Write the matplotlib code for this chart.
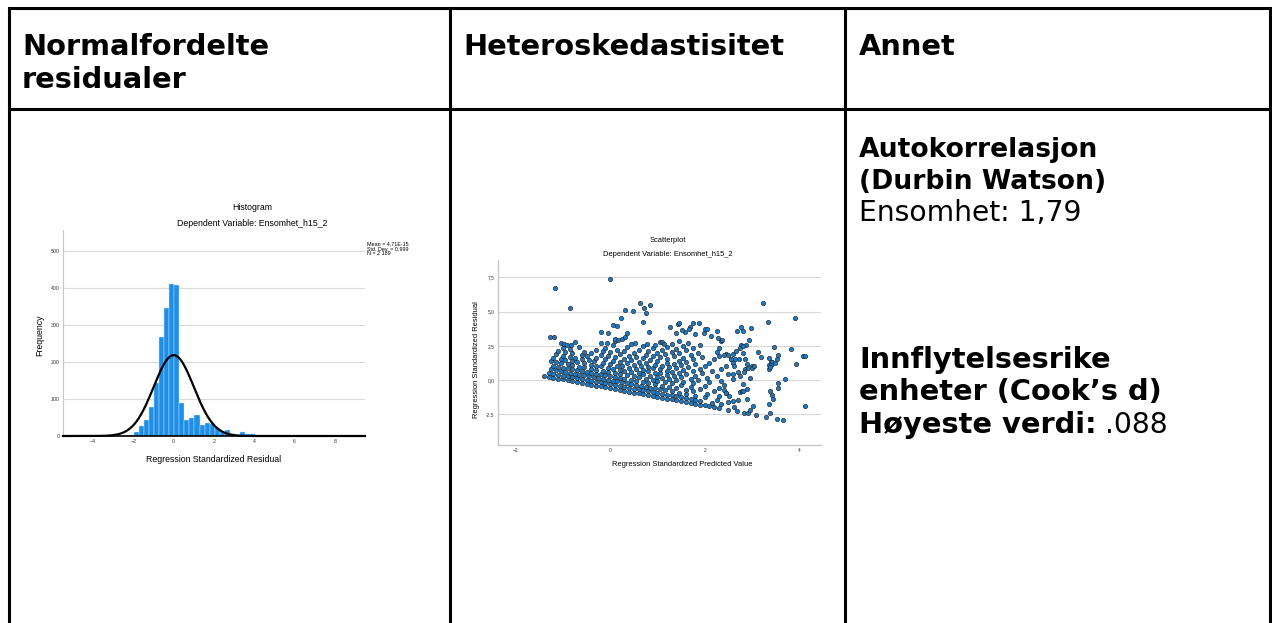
import numpy as np
import matplotlib
matplotlib.use("Agg")
import matplotlib.pyplot as plt

W, H = 1272, 623

# ---------- residual histogram ----------
bin_start, bin_width = -2.72, 0.25
hist_counts = [1, 2, 4, 12, 27, 44, 78, 142, 268, 345, 411, 408,
               89, 42, 50, 56, 31, 36, 33, 21, 10, 17, 5, 2, 10, 5, 5, 4,
               1, 2, 1, 2, 1]
res_mean, res_sd, res_n = 4.71e-15, 0.999, 2189
hist_xticks = [-4, -2, 0, 2, 4, 6, 8]
hist_yticks = [0, 100, 200, 300, 400, 500]

# ---------- residual vs predicted scatter ----------
# lower dense band (lowest outcome levels)
band_pred = [
    -1.4, -1.3, -1.2, -1.1, -1.0, -0.9, -0.8, -0.7, -0.6, -0.5, -0.4, -0.3, -0.2, -0.1, 0.0,
    0.1, 0.2, 0.3, 0.4, 0.5, 0.6, 0.7, 0.8, 0.9, 1.0, 1.1, 1.2, 1.3, 1.4, 1.5, 1.6, 1.7, 1.8,
    1.9, 2.0, 2.1, 2.2, 2.3, 2.49, 2.69, 2.83, 2.91, 3.09, 3.30, 3.53, 3.65,
    -1.3, -1.2, -1.1, -1.0, -0.9, -0.8, -0.7, -0.6, -0.5, -0.4, -0.3, -0.2, -0.1, 0.0, 0.1,
    0.2, 0.3, 0.4, 0.5, 0.6, 0.7, 0.8, 0.9, 1.0, 1.1, 1.2, 1.3, 1.4, 1.5, 1.6, 1.7, 1.8, 1.9,
    2.15, 2.35, 2.62, 2.95, 3.38,
    -1.25, -1.15, -1.05, -0.95, -0.85, -0.75, -0.65, -0.55, -0.45, -0.35, -0.25, -0.15, -0.05,
    0.05, 0.15, 0.25, 0.35, 0.45, 0.55, 0.65, 0.75, 0.85, 0.95, 1.05, 1.15, 1.3, 1.45, 1.6,
    1.8, 2.0, 2.25, 2.5,
    -1.2, -1.1, -1.0, -0.9, -0.8, -0.7, -0.6, -0.5, -0.4, -0.3, -0.2, -0.1, 0.0, 0.1, 0.2, 0.3,
    0.45, 0.55, 0.7, 0.8, 0.95, 1.1, 1.25, 1.4, 1.6, 1.75, 2.05, 2.3, 2.7,
    -1.25, -1.15, -1.05, -0.9, -0.8, -0.65, -0.55, -0.4, -0.3, -0.15, -0.05, 0.1, 0.2, 0.35,
    0.5, 0.6, 0.75, 0.9, 1.0, 1.15, 1.3, 1.5, 1.7, 1.9, 2.2, 2.45,
]
band_resid = [
    0.29, 0.23, 0.17, 0.10, 0.04, -0.02, -0.09, -0.15, -0.21, -0.28, -0.34, -0.40, -0.46, -0.53,
    -0.59, -0.65, -0.72, -0.78, -0.84, -0.91, -0.97, -1.03, -1.09, -1.16, -1.22, -1.28, -1.35,
    -1.41, -1.47, -1.54, -1.60, -1.66, -1.72, -1.79, -1.85, -1.91, -1.98, -2.04, -2.16, -2.29,
    -2.37, -2.42, -2.54, -2.67, -2.81, -2.89,
    0.52, 0.46, 0.39, 0.33, 0.27, 0.20, 0.14, 0.08, 0.01, -0.05, -0.11, -0.17, -0.24, -0.30,
    -0.36, -0.43, -0.49, -0.55, -0.62, -0.68, -0.74, -0.80, -0.87, -0.93, -0.99, -1.06, -1.12,
    -1.18, -1.25, -1.31, -1.37, -1.43, -1.50, -1.65, -1.78, -1.95, -2.16, -2.43,
    0.78, 0.71, 0.65, 0.59, 0.53, 0.46, 0.40, 0.34, 0.27, 0.21, 0.15, 0.08, 0.02, -0.04, -0.10,
    -0.17, -0.23, -0.29, -0.36, -0.42, -0.48, -0.55, -0.61, -0.67, -0.73, -0.83, -0.92, -1.02,
    -1.14, -1.27, -1.43, -1.59,
    1.04, 0.97, 0.91, 0.85, 0.78, 0.72, 0.66, 0.60, 0.53, 0.47, 0.41, 0.34, 0.28, 0.22, 0.15,
    0.09, 0.00, -0.07, -0.16, -0.22, -0.32, -0.41, -0.51, -0.60, -0.73, -0.82, -1.01, -1.17,
    -1.42,
    1.36, 1.29, 1.23, 1.14, 1.07, 0.98, 0.92, 0.82, 0.76, 0.66, 0.60, 0.51, 0.44, 0.35, 0.26,
    0.19, 0.10, 0.00, -0.06, -0.15, -0.25, -0.38, -0.50, -0.63, -0.82, -0.97,
]

# middle rows, thinning out upwards
mid_pred = [
    -1.2, -1.05, -0.95, -0.8, -0.7, -0.55, -0.4, -0.3, -0.2, -0.05, 0.05, 0.2, 0.3, 0.45, 0.6,
    0.7, 0.85, 1.0, 1.1, 1.25, 1.4, 1.55, 1.75, 2.0, 2.3, 2.75,
    -1.15, -1.0, -0.85, -0.75, -0.6, -0.45, -0.35, -0.15, 0.0, 0.15, 0.25, 0.4, 0.55, 0.7, 0.8,
    0.95, 1.05, 1.2, 1.35, 1.5, 1.7, 1.85, 2.1, 2.4, 2.9,
    -1.1, -0.95, -0.8, -0.6, -0.5, -0.3, -0.1, 0.05, 0.2, 0.35, 0.5, 0.65, 0.8, 0.9, 1.05, 1.2,
    1.3, 1.45, 1.6, 1.8, 2.05, 2.35, 2.8,
    -1.0, -0.85, -0.55, -0.4, -0.2, -0.05, 0.1, 0.3, 0.45, 0.6, 0.75, 0.95, 1.1, 1.25, 1.4,
    1.55, 1.75, 1.95, 2.25, 2.6,
    -0.65, -0.3, -0.15, 0.0, 0.2, 0.4, 0.55, 0.7, 0.85, 1.0, 1.2, 1.35, 1.5, 1.65, 1.9, 2.15,
    2.5, 2.95,
    -0.75, -0.1, 0.15, 0.3, 0.5, 0.75, 0.9, 1.05, 1.2, 1.45, 1.6, 1.8, 2.0, 2.35, 2.7,
    -0.2, 0.05, 0.35, 0.6, 0.8, 1.0, 1.15, 1.35, 1.55, 1.75, 2.1, 2.45, 2.85,
    0.1, 0.45, 0.7, 0.9, 1.1, 1.3, 1.45, 1.7, 1.95, 2.2, 2.6, 3.0,
    0.25, 0.95, 1.2, 1.4, 1.6, 1.85, 2.3, 2.55, 3.35,
    1.05, 1.3, 1.55, 1.75, 2.25, 2.45, 3.4,
    1.45, 1.65, 1.9, 2.3, 2.8,
]
mid_resid = [
    1.62, 1.52, 1.46, 1.36, 1.30, 1.21, 1.11, 1.05, 0.99, 0.89, 0.83, 0.73, 0.67, 0.58, 0.48,
    0.42, 0.32, 0.23, 0.17, 0.07, -0.02, -0.12, -0.24, -0.40, -0.59, -0.87,
    1.87, 1.78, 1.69, 1.62, 1.53, 1.43, 1.37, 1.24, 1.15, 1.06, 0.99, 0.90, 0.80, 0.71, 0.65,
    0.55, 0.49, 0.39, 0.30, 0.21, 0.08, -0.02, -0.17, -0.36, -0.68,
    2.13, 2.04, 1.94, 1.82, 1.76, 1.63, 1.50, 1.41, 1.31, 1.22, 1.13, 1.03, 0.94, 0.87, 0.78,
    0.68, 0.62, 0.53, 0.43, 0.31, 0.15, -0.04, -0.32,
    2.36, 2.27, 2.08, 1.98, 1.86, 1.76, 1.67, 1.54, 1.45, 1.35, 1.26, 1.13, 1.04, 0.94, 0.85,
    0.75, 0.63, 0.50, 0.31, 0.09,
    2.43, 2.21, 2.11, 2.02, 1.89, 1.77, 1.67, 1.58, 1.48, 1.39, 1.26, 1.17, 1.08, 0.98, 0.82,
    0.67, 0.45, 0.16,
    2.78, 2.37, 2.22, 2.12, 1.99, 1.84, 1.74, 1.65, 1.55, 1.40, 1.30, 1.18, 1.05, 0.83, 0.61,
    2.73, 2.57, 2.38, 2.22, 2.10, 1.97, 1.88, 1.75, 1.62, 1.50, 1.28, 1.06, 0.80,
    2.83, 2.61, 2.45, 2.32, 2.20, 2.07, 1.98, 1.82, 1.66, 1.50, 1.25, 1.00,
    3.02, 2.58, 2.42, 2.30, 2.17, 2.01, 1.73, 1.57, 1.07,
    2.81, 2.65, 2.49, 2.37, 2.05, 1.93, 1.33,
    2.85, 2.72, 2.56, 2.31, 2.00,
]

# scattered high residuals and the sparse right-hand side
sparse_pred = [
    -1.05, -0.98, -0.91, -0.84, -1.27, -1.18, -1.17, -0.01, -0.86, 0.62, 0.84, 0.32, 0.49,
    0.72, 0.75, 0.70, -0.20, -0.04, 0.05, 0.14, 0.23, 0.35, 0.32, 0.11, 0.16, 0.82, -0.07,
    0.53, 0.77, 1.09, 1.14, 1.26, 1.44, 1.46, 1.58, 1.68, 1.75, 1.88, 1.40, 1.51, 1.67, 1.79,
    1.99, 2.01, 2.04, 2.14, 2.28, 2.35, 2.26, 2.37, 2.69, 2.76, 2.93, 2.88, 2.77, 2.80, 2.97,
    3.23, 3.33, 3.91, 3.83, 4.08, 4.12, 3.94, 3.13, 3.19, 3.37, 3.42, 3.40, 3.49, 3.52, 3.37,
    3.39, 3.69, 3.55, 3.56, 3.38, 3.42, 3.44, 3.36, 4.12, 3.02, 2.89, 2.78, 2.82, 2.59, 2.75,
    2.84, 2.92, 3.00, 3.05, 2.62, 2.89, 2.73, 2.86, 2.60, 2.66, 2.75, 2.82, 2.40, 2.50, 2.55,
    2.65, 2.41, 2.45, 2.52, 2.60, 3.55, 3.47,
]
sparse_resid = [
    2.68, 2.64, 2.59, 2.55, 3.17, 3.12, 6.74, 7.35, 5.24, 5.60, 5.48, 5.11, 5.04,
    5.24, 4.92, 4.26, 3.48, 3.41, 4.02, 3.94, 4.55, 3.46, 3.17, 2.97, 2.92, 3.51, 2.68,
    2.73, 2.61, 2.80, 2.61, 3.90, 4.09, 4.14, 3.48, 3.90, 4.14, 4.19, 3.41, 3.65, 3.70, 3.34,
    3.46, 3.70, 3.75, 3.24, 3.04, 2.85, 3.58, 2.92, 3.58, 3.90, 2.92, 2.56, 2.56, 3.58, 3.80,
    5.64, 4.23, 4.53, 2.26, 1.78, 1.76, 1.19, 2.04, 1.68, 1.60, 1.35, 1.10, 1.27, 1.51, 0.78,
    0.97, 0.07, -0.22, -0.56, -0.80, -1.10, -1.40, -1.75, -1.87, -1.87, -1.39, -0.80, -0.82,
    0.41, 0.29, 0.60, 0.85, 0.85, 1.05, 1.02, 1.17, 1.56, 1.56, 1.90, 2.10, 2.35, 2.50, 1.85,
    1.80, 1.55, 1.50, -0.72, -0.95, -1.20, -1.50, 1.85, 2.39,
]
scat_xticks = [-2, 0, 2, 4]
scat_yticks = [-2.5, 0.0, 2.5, 5.0, 7.5]

SPSS_FONT = "Liberation Sans"


def comma(v):
    return f"{v:.1f}".replace(".", ",")


fig = plt.figure(figsize=(W / 100, H / 100), dpi=100)
fig.patch.set_facecolor("white")
page = fig.add_axes([0, 0, 1, 1])
page.set_xlim(0, W)
page.set_ylim(H, 0)
page.axis("off")


def box(left, top, right, bottom):
    return fig.add_axes([left / W, 1 - bottom / H, (right - left) / W, (bottom - top) / H])


# table grid
lw = 2.2
for x in (9, 450, 845, 1270):
    page.plot([x, x], [8, H + 5], color="black", lw=lw, solid_capstyle="projecting")
for y in (8, 109):
    page.plot([9, 1270], [y, y], color="black", lw=lw, solid_capstyle="projecting")

head = dict(fontsize=20.8, fontweight="bold", family="DejaVu Sans", va="baseline", ha="left")
page.text(22, 55, "Normalfordelte", **head)
page.text(22, 88, "residualer", **head)
page.text(463, 55, "Heteroskedastisitet", **head)
page.text(859, 55, "Annet", **head)

# right column notes
note = dict(head, fontsize=19.2)
page.text(859, 157, "Autokorrelasjon", **note)
page.text(859, 189, "(Durbin Watson)", **note)
page.text(859, 221, "Ensomhet: 1,79", fontsize=20.3, family="DejaVu Sans", va="baseline")
page.text(859, 368, "Innflytelsesrike", **head)
page.text(859, 400, "enheter (Cook’s d)", **head)
hv = page.text(859, 433, "Høyeste verdi:", **head)
fig.canvas.draw()
bb = hv.get_window_extent(fig.canvas.get_renderer())
page.text(bb.x1 + 8, 433, ".088", fontsize=20.3, family="DejaVu Sans", va="baseline")

# ---------- histogram panel ----------
ax_h = box(63, 230, 365, 436)
edges = bin_start + bin_width * np.arange(len(hist_counts))
ax_h.bar(edges, hist_counts, width=bin_width, align="edge", color="#1e8fe8",
         edgecolor="#cfe5fa", linewidth=0.3, zorder=2)
xs = np.linspace(-5.5, 9.5, 500)
curve = res_n * bin_width * np.exp(-0.5 * ((xs - res_mean) / res_sd) ** 2) / (res_sd * np.sqrt(2 * np.pi))
ax_h.plot(xs, curve, color="black", lw=1.6, zorder=3, clip_on=False)
ax_h.set_xlim(-5.5, 9.5)
ax_h.set_ylim(0, 557)
ax_h.set_xticks(hist_xticks)
ax_h.set_yticks(hist_yticks)
ax_h.yaxis.grid(True, color="#dadada", lw=0.8)
ax_h.set_axisbelow(True)
for s in ("top", "right"):
    ax_h.spines[s].set_visible(False)
ax_h.spines["left"].set_color("#c8c8c8")
ax_h.spines["bottom"].set_color("black")
ax_h.spines["bottom"].set_linewidth(1.2)
ax_h.tick_params(length=0, labelsize=3.8, pad=2.5, colors="#333333")
for t in ax_h.get_xticklabels() + ax_h.get_yticklabels():
    t.set_family(SPSS_FONT)

page.text(252, 207, "Histogram", ha="center", va="center", fontsize=6.3, family=SPSS_FONT)
page.text(252, 223, "Dependent Variable: Ensomhet_h15_2", ha="center", va="center",
          fontsize=6.3, family=SPSS_FONT)
page.text(214, 459, "Regression Standardized Residual", ha="center", va="center",
          fontsize=6.3, family=SPSS_FONT)
page.text(40, 335, "Frequency", ha="center", va="center", rotation=90,
          fontsize=6.3, family=SPSS_FONT)
page.text(367, 241, "Mean = 4,71E-15\nStd. Dev. = " + comma(res_sd).replace("1,0", "0,999")
          + "\nN = 2 189",
          ha="left", va="top", fontsize=3.9, family=SPSS_FONT, linespacing=1.05)

# ---------- scatter panel ----------
ax_s = box(498, 260, 821, 445)
ax_s.scatter(band_pred + mid_pred + sparse_pred, band_resid + mid_resid + sparse_resid,
             s=10, color="#1f78c0", edgecolor="#1a1a1a", linewidth=0.4, zorder=3)
ax_s.set_xlim(-2.374, 4.46)
ax_s.set_ylim(-4.74, 8.76)
ax_s.set_xticks(scat_xticks)
ax_s.set_yticks(scat_yticks)
ax_s.set_yticklabels([comma(v) for v in scat_yticks])
ax_s.yaxis.grid(True, color="#d8d8d8", lw=0.8)
ax_s.set_axisbelow(True)
for s in ("top", "right"):
    ax_s.spines[s].set_visible(False)
for s in ("left", "bottom"):
    ax_s.spines[s].set_color("#c8c8c8")
    ax_s.spines[s].set_linewidth(1.0)
ax_s.tick_params(length=0, labelsize=3.5, pad=2.5, colors="#333333")
for t in ax_s.get_xticklabels() + ax_s.get_yticklabels():
    t.set_family(SPSS_FONT)

page.text(668, 240, "Scatterplot", ha="center", va="center", fontsize=5.4, family=SPSS_FONT)
page.text(668, 255, "Dependent Variable: Ensomhet_h15_2", ha="center", va="center",
          fontsize=5.4, family=SPSS_FONT)
page.text(682, 465, "Regression Standardized Predicted Value", ha="center", va="center",
          fontsize=5.4, family=SPSS_FONT)
page.text(476, 360, "Regression Standardized Residual", ha="center", va="center",
          rotation=90, fontsize=5.4, family=SPSS_FONT)

fig.savefig("out.png", dpi=100, facecolor="white")
